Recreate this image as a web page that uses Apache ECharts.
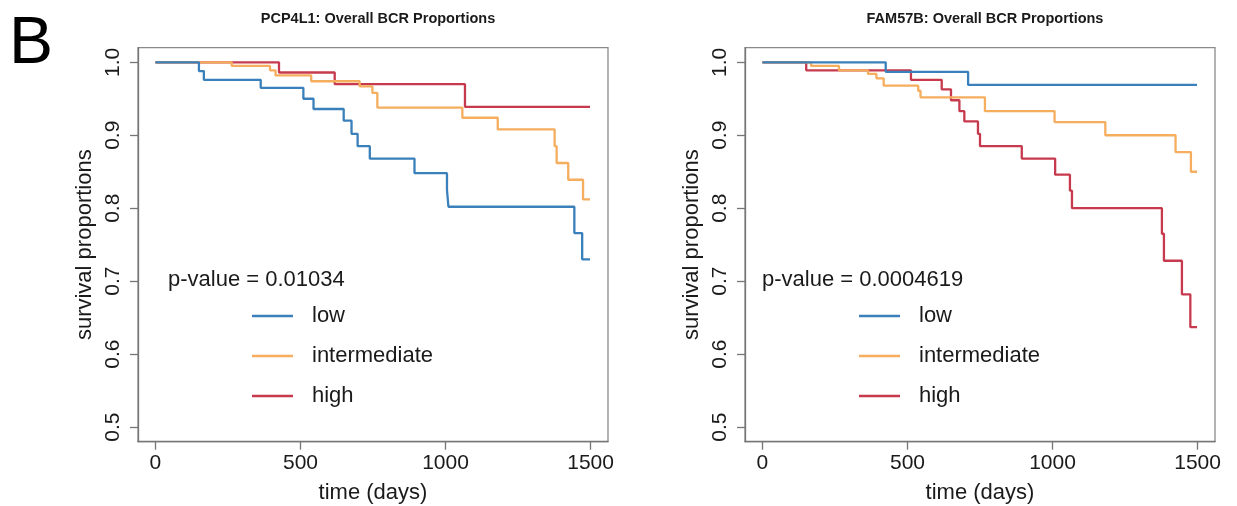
<!DOCTYPE html>
<html>
<head>
<meta charset="utf-8">
<script src="https://cdn.jsdelivr.net/npm/echarts@6/dist/echarts.min.js"></script>
<style>
  html, body { margin: 0; padding: 0; background: #fff; }
  #chart { width: 1237px; height: 506px; }
</style>
</head>
<body>
<div id="chart"></div>
<script>
// PCP4L1 (left panel), Kaplan-Meier step points: time in days, survival proportion after that time
const pcp4l1LowTime = [0, 150, 167, 363, 510, 545, 649, 676, 697, 739, 893, 1005, 1010, 1444, 1471, 1498]
const pcp4l1LowSurv = [1, 0.988, 0.976, 0.965, 0.950, 0.936, 0.920, 0.902, 0.885, 0.868, 0.848, 0.825, 0.802, 0.766, 0.730, 0.730]
const pcp4l1MidTime = [0, 263, 395, 414, 537, 704, 748, 765, 1058, 1180, 1376, 1383, 1423, 1474, 1498]
const pcp4l1MidSurv = [1, 0.995, 0.989, 0.982, 0.974, 0.967, 0.958, 0.938, 0.924, 0.908, 0.885, 0.862, 0.839, 0.812, 0.812]
const pcp4l1HighTime = [0, 426, 618, 1067, 1498]
const pcp4l1HighSurv = [1, 0.986, 0.970, 0.939, 0.939]

// FAM57B (right panel)
const fam57bLowTime = [0, 425, 709, 1498]
const fam57bLowSurv = [1, 0.987, 0.969, 0.969]
const fam57bMidTime = [0, 168, 264, 364, 393, 418, 537, 545, 767, 1007, 1182, 1424, 1477, 1498]
const fam57bMidSurv = [1, 0.995, 0.989, 0.984, 0.978, 0.968, 0.961, 0.952, 0.933, 0.918, 0.900, 0.877, 0.850, 0.850]
const fam57bHighTime = [0, 151, 512, 618, 650, 679, 696, 743, 750, 894, 1009, 1060, 1067, 1377, 1384, 1446, 1475, 1498]
const fam57bHighSurv = [1, 0.989, 0.976, 0.963, 0.948, 0.933, 0.919, 0.902, 0.885, 0.868, 0.846, 0.824, 0.800, 0.765, 0.728, 0.682, 0.637, 0.637]

const titles = ['PCP4L1: Overall BCR Proportions', 'FAM57B: Overall BCR Proportions']
const pValues = ['p-value = 0.01034', 'p-value = 0.0004619']
const groupNames = ['low', 'intermediate', 'high']
const xTicks = [0, 500, 1000, 1500]
const yTicks = [0.5, 0.6, 0.7, 0.8, 0.9, 1.0]

const colors = { low: '#3A80BA', intermediate: '#F5AD5E', high: '#C73A4E' }
const font = 'Liberation Sans, Arial, Helvetica, sans-serif'
const axisGray = '#767676'

// panel boxes (R plot regions) in pixels
const panels = [
  { left: 138, width: 470, pLeft: 168, legLeft: 247 },
  { left: 745, width: 470, pLeft: 762, legLeft: 854 }
]

function zip(t, s) {
  return t.map((v, i) => [v, s[i]])
}

const chart = echarts.init(document.getElementById('chart'))

const grids = panels.map(p => ({
  left: p.left, width: p.width, top: 47.7, bottom: 64.3,
  outerBoundsMode: 'none', containLabel: false,
  show: true, borderColor: '#8a8a8a', borderWidth: 1.3, backgroundColor: 'transparent'
}))

const xAxes = panels.map((p, i) => ({
  type: 'value', gridIndex: i, min: -60, max: 1560,
  name: 'time (days)', nameLocation: 'middle', nameGap: 40,
  nameTextStyle: { fontSize: 22, fontFamily: font, color: '#1a1a1a' },
  axisLine: { show: true, onZero: false, lineStyle: { color: axisGray, width: 1.3 } },
  axisTick: { show: true, length: 8, customValues: xTicks, lineStyle: { color: axisGray, width: 1.3 } },
  axisLabel: { customValues: xTicks, margin: 11, fontSize: 21, fontFamily: font, color: '#1a1a1a', formatter: v => String(v) },
  splitLine: { show: false }
}))

const yAxes = panels.map((p, i) => ({
  type: 'value', gridIndex: i, min: 0.48, max: 1.02,
  name: 'survival proportions', nameLocation: 'middle', nameGap: 42, nameRotate: 90,
  nameTextStyle: { fontSize: 22, fontFamily: font, color: '#1a1a1a' },
  axisLine: { show: true, onZero: false, lineStyle: { color: axisGray, width: 1.3 } },
  axisTick: { show: true, length: 8, customValues: yTicks, lineStyle: { color: axisGray, width: 1.3 } },
  axisLabel: {
    customValues: yTicks, rotate: 90, margin: 14, fontSize: 21, fontFamily: font, color: '#1a1a1a',
    formatter: v => v.toFixed(1)
  },
  splitLine: { show: false }
}))

const panelData = [
  { low: zip(pcp4l1LowTime, pcp4l1LowSurv), intermediate: zip(pcp4l1MidTime, pcp4l1MidSurv), high: zip(pcp4l1HighTime, pcp4l1HighSurv) },
  { low: zip(fam57bLowTime, fam57bLowSurv), intermediate: zip(fam57bMidTime, fam57bMidSurv), high: zip(fam57bHighTime, fam57bHighSurv) }
]

const series = []
panelData.forEach((d, i) => {
  // draw high first so low ends up on top, as in the reference
  ;['high', 'intermediate', 'low'].forEach(name => {
    series.push({
      type: 'line', name, xAxisIndex: i, yAxisIndex: i,
      step: 'end', data: d[name], showSymbol: false, symbol: 'none',
      lineStyle: { color: colors[name], width: 2.3 },
      itemStyle: { color: colors[name] },
      animation: false
    })
  })
})

const legends = panels.map(p => ({
  orient: 'vertical', left: p.legLeft, top: 299,
  data: groupNames, icon: 'rect', itemWidth: 41, itemHeight: 2.4, itemGap: 16,
  selectedMode: false,
  textStyle: { fontSize: 22, fontFamily: font, color: '#1a1a1a', lineHeight: 24, padding: [0, 0, 0, 14] }
}))

const titleList = titles.map((t, i) => ({
  text: t, left: panels[i].left + panels[i].width / 2, top: 6, textAlign: 'center',
  textStyle: { fontSize: 14.5, fontWeight: 'bold', fontFamily: font, color: '#1a1a1a' }
}))

const graphics = [
  { type: 'text', x: 9, y: 45, style: { text: 'B', fontSize: 66, fontFamily: font, fill: '#000', verticalAlign: 'middle' } }
].concat(pValues.map((t, i) => ({
  type: 'text', x: panels[i].pLeft, y: 280,
  style: { text: t, fontSize: 22, fontFamily: font, fill: '#1a1a1a', verticalAlign: 'middle' }
})))

chart.setOption({
  animation: false,
  title: titleList,
  grid: grids,
  xAxis: xAxes,
  yAxis: yAxes,
  legend: legends,
  series,
  graphic: graphics
})

window.addEventListener('resize', () => chart.resize())
</script>
</body>
</html>
